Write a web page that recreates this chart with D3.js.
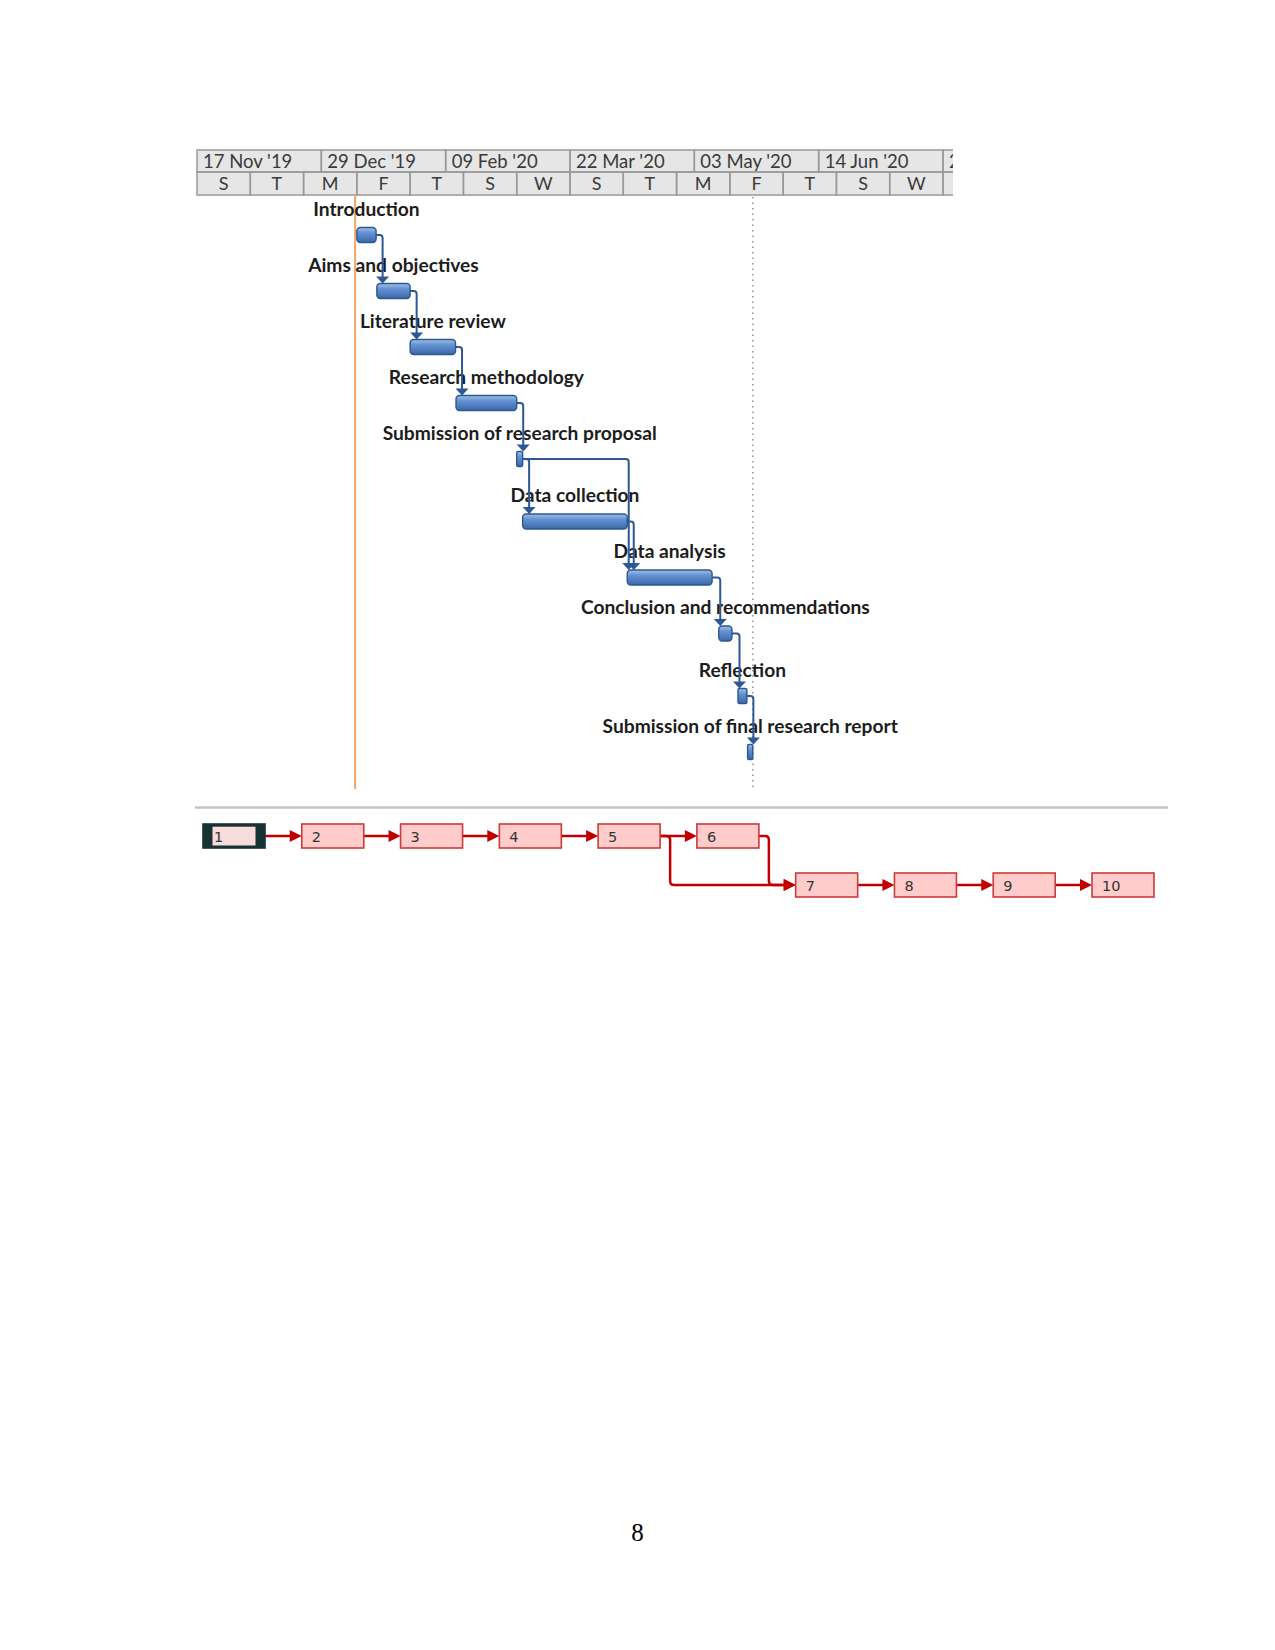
<!DOCTYPE html>
<html>
<head>
<meta charset="utf-8">
<script src="https://cdn.jsdelivr.net/npm/d3@7"></script>
<style>
  body { margin: 0; background: #fff; }
</style>
</head>
<body>
<div id="svgWrapper"></div>
<script>
const width = 1275;
const height = 1650;

// Tasks of the gantt chart
const taskNames = [
    "Introduction",
    "Aims and objectives",
    "Literature review",
    "Research methodology",
    "Submission of research proposal",
    "Data collection",
    "Data analysis",
    "Conclusion and recommendations",
    "Reflection",
    "Submission of final research report"
];
const taskStarts = [
    "2020-01-10 00:00", "2020-01-16 18:00", "2020-01-28 00:00", "2020-02-12 12:00", "2020-03-04 00:00",
    "2020-03-06 00:00", "2020-04-10 08:00", "2020-05-11 06:00", "2020-05-17 18:00", "2020-05-21 00:00"
];
const taskEnds = [
    "2020-01-16 12:00", "2020-01-28 00:00", "2020-02-12 08:00", "2020-03-04 00:00", "2020-03-06 00:00",
    "2020-04-10 08:00", "2020-05-09 00:00", "2020-05-15 17:00", "2020-05-20 18:00", "2020-05-22 18:00"
];
// predecessor -> successor (task numbers)
const dependencies = [[1, 2], [2, 3], [3, 4], [4, 5], [5, 6], [5, 7], [6, 7], [7, 8], [8, 9], [9, 10]];

// Timescale
const topTierDates = ["2019-11-17 00:00", "2019-12-29 00:00", "2020-02-09 00:00", "2020-03-22 00:00", "2020-05-03 00:00", "2020-06-14 00:00", "2020-07-26 00:00"];
const topTierLabels = ["17 Nov '19", "29 Dec '19", "09 Feb '20", "22 Mar '20", "03 May '20", "14 Jun '20", "26 Jul '20"];
const bottomTierLabels = ["S", "T", "M", "F", "T", "S", "W", "S", "T", "M", "F", "T", "S", "W", "S"];
const currentDate = "2020-01-09 10:00";
const deadlineDate = "2020-05-22 18:00";

// Network diagram nodes
const nodeIds = ["1", "2", "3", "4", "5", "6", "7", "8", "9", "10"];
const nodeCols = [0, 1, 2, 3, 4, 5, 6, 7, 8, 9];
const nodeRows = [0, 0, 0, 0, 0, 0, 1, 1, 1, 1];

const pageNumber = "8";

const parse = d3.timeParse("%Y-%m-%d %H:%M");

const svg = d3.select("#svgWrapper")
    .append("svg")
    .attr("width", width)
    .attr("height", height)
    .style("display", "block");

svg.append("rect")
    .attr("width", width)
    .attr("height", height)
    .attr("fill", "#fff");

const defs = svg.append("defs");

// bar gradient
const grad = defs.append("linearGradient")
    .attr("id", "barGrad")
    .attr("x1", 0).attr("y1", 0).attr("x2", 0).attr("y2", 1);
grad.append("stop").attr("offset", "0%").attr("stop-color", "#a3c1e8");
grad.append("stop").attr("offset", "35%").attr("stop-color", "#6593d2");
grad.append("stop").attr("offset", "100%").attr("stop-color", "#3a68a8");

// clip for the timescale
const chartLeft = 197, chartRight = 953;
defs.append("clipPath").attr("id", "headClip")
    .append("rect")
    .attr("x", chartLeft - 1).attr("y", 140)
    .attr("width", chartRight - chartLeft + 1).attr("height", 70);

const x = d3.scaleTime()
    .domain([parse(topTierDates[0]), parse(topTierDates[topTierDates.length - 1])])
    .range([chartLeft, 943]);

// row positions (two rows are a bit taller)
const tallRows = [5, 8];
const yRow = d3.scaleLinear().domain([0, 1]).range([235, 291]);
const rowY = i => yRow(i + tallRows.filter(t => i >= t).length * 0.116);

const barH = 15;
const font = "Lato, 'Open Sans', sans-serif";

// ---------- timescale header ----------
const head = svg.append("g").attr("clip-path", "url(#headClip)");
const headTop = 150, headMid = 172, headBottom = 195;

head.append("rect")
    .attr("x", chartLeft).attr("y", headTop)
    .attr("width", chartRight - chartLeft).attr("height", headBottom - headTop)
    .attr("fill", "#e6e6e6");

const topCells = topTierDates.map((d, i) => ({
    start: parse(d),
    end: d3.timeDay.offset(parse(d), 42),
    label: topTierLabels[i]
}));

head.selectAll(".topCell")
    .data(topCells)
    .enter()
    .append("rect")
    .attr("x", d => x(d.start))
    .attr("y", headTop)
    .attr("width", d => x(d.end) - x(d.start))
    .attr("height", headMid - headTop)
    .attr("fill", "none")
    .attr("stroke", "#999")
    .attr("stroke-width", 1.5);

head.selectAll(".topLabel")
    .data(topCells)
    .enter()
    .append("text")
    .attr("x", d => x(d.start) + 6)
    .attr("y", headMid - 4.5)
    .attr("font-family", font)
    .attr("font-size", 18.5)
    .attr("fill", "#3a3a3a")
    .text(d => d.label);

const bottomCells = bottomTierLabels.map((l, i) => ({
    start: d3.timeDay.offset(parse(topTierDates[0]), i * 18),
    end: d3.timeDay.offset(parse(topTierDates[0]), (i + 1) * 18),
    label: l
}));

head.selectAll(".botCell")
    .data(bottomCells)
    .enter()
    .append("rect")
    .attr("x", d => x(d.start))
    .attr("y", headMid)
    .attr("width", d => x(d.end) - x(d.start))
    .attr("height", headBottom - headMid)
    .attr("fill", "none")
    .attr("stroke", "#999")
    .attr("stroke-width", 1.5);

head.selectAll(".botLabel")
    .data(bottomCells)
    .enter()
    .append("text")
    .attr("x", d => (x(d.start) + x(d.end)) / 2)
    .attr("y", headBottom - 5.5)
    .attr("text-anchor", "middle")
    .attr("font-family", font)
    .attr("font-size", 18)
    .attr("fill", "#3a3a3a")
    .text(d => d.label);

// ---------- vertical lines ----------
svg.append("line")
    .attr("x1", x(parse(currentDate))).attr("x2", x(parse(currentDate)))
    .attr("y1", headBottom).attr("y2", 789)
    .attr("stroke", "#f3a766")
    .attr("stroke-width", 2);

svg.append("line")
    .attr("x1", x(parse(deadlineDate))).attr("x2", x(parse(deadlineDate)))
    .attr("y1", headBottom + 2).attr("y2", 787)
    .attr("stroke", "#9a9a9a")
    .attr("stroke-width", 1.6)
    .attr("stroke-dasharray", "1.5,4");

// ---------- tasks ----------
const tasks = taskNames.map((name, i) => ({
    name: name,
    start: parse(taskStarts[i]),
    end: parse(taskEnds[i]),
    row: i
}));

// task labels, centred over the bars
svg.selectAll(".taskLabel")
    .data(tasks)
    .enter()
    .append("text")
    .attr("x", d => (x(d.start) + x(d.end)) / 2)
    .attr("y", d => rowY(d.row) - 19)
    .attr("text-anchor", "middle")
    .attr("font-family", font)
    .attr("font-weight", "bold")
    .attr("font-size", 19.2)
    .attr("fill", "#1c1c1c")
    .text(d => d.name);

// bars
svg.selectAll(".bar")
    .data(tasks)
    .enter()
    .append("rect")
    .attr("x", d => x(d.start))
    .attr("y", d => rowY(d.row) - barH / 2)
    .attr("width", d => x(d.end) - x(d.start))
    .attr("height", barH)
    .attr("rx", d => (x(d.end) - x(d.start)) < 10 ? 1.5 : 3.5)
    .attr("fill", "url(#barGrad)")
    .attr("stroke", "#2b5891")
    .attr("stroke-width", 1.4);

// dependency links
const linkColor = "#2c5894";
const gLinks = svg.append("g");
dependencies.forEach(([p, s]) => {
    const a = tasks[p - 1], b = tasks[s - 1];
    const sx = x(a.end);
    const sy = rowY(a.row);
    const ax = Math.max(x(a.end) + 6.5, x(b.start) + 1.5);
    const ey = rowY(b.row) - barH / 2;
    gLinks.append("path")
        .attr("d", `M${sx},${sy} H${ax - 3} Q${ax},${sy} ${ax},${sy + 3} V${ey - 5}`)
        .attr("fill", "none")
        .attr("stroke", linkColor)
        .attr("stroke-width", 2);
    gLinks.append("path")
        .attr("d", `M${ax - 6.5},${ey - 7} L${ax + 6.5},${ey - 7} L${ax},${ey} Z`)
        .attr("fill", linkColor);
});

// ---------- network diagram ----------
svg.append("line")
    .attr("x1", 195).attr("x2", 1168)
    .attr("y1", 807.5).attr("y2", 807.5)
    .attr("stroke", "#c6c6c6")
    .attr("stroke-width", 2.5);

const nx = d3.scaleLinear().domain([0, 9]).range([203, 1092]);
const ny = d3.scaleLinear().domain([0, 1]).range([824, 873]);
const boxW = 62, boxH = 24;
const netRed = "#c00000";

const nodes = nodeIds.map((id, i) => ({ id: id, col: nodeCols[i], row: nodeRows[i] }));

const gNet = svg.append("g");
dependencies.forEach(([p, s]) => {
    const a = nodes[p - 1], b = nodes[s - 1];
    const x1 = nx(a.col) + boxW;
    const y1 = ny(a.row) + boxH / 2;
    const x2 = nx(b.col);
    const y2 = ny(b.row) + boxH / 2;
    let d;
    if (a.row === b.row) {
        d = `M${x1},${y1} H${x2 - 9}`;
    } else {
        const vx = x1 + 10;
        d = `M${x1},${y1} H${vx - 4} Q${vx},${y1} ${vx},${y1 + 4} V${y2 - 4} Q${vx},${y2} ${vx + 4},${y2} H${x2 - 9}`;
    }
    gNet.append("path")
        .attr("d", d)
        .attr("fill", "none")
        .attr("stroke", netRed)
        .attr("stroke-width", 2.5);
    gNet.append("path")
        .attr("d", `M${x2 - 12},${y2 - 6} L${x2 - 12},${y2 + 6} L${x2},${y2} Z`)
        .attr("fill", netRed);
});

const boxes = gNet.selectAll(".node")
    .data(nodes)
    .enter()
    .append("g")
    .attr("transform", d => `translate(${nx(d.col)},${ny(d.row)})`);

boxes.append("rect")
    .attr("width", boxW)
    .attr("height", boxH)
    .attr("fill", d => d.id === "1" ? "#173232" : "#ffcccc")
    .attr("stroke", d => d.id === "1" ? "#173232" : "#cc3a3a")
    .attr("stroke-width", 1.6);

// first node is selected: dark frame with light inside
boxes.filter(d => d.id === "1")
    .append("rect")
    .attr("x", 9.5).attr("y", 2.7)
    .attr("width", boxW - 19).attr("height", boxH - 5.2)
    .attr("fill", "#f7dcdc");

boxes.append("text")
    .attr("x", d => d.id === "1" ? 11 : 10)
    .attr("y", boxH / 2 + 5.5)
    .attr("font-family", "'DejaVu Sans', Verdana, sans-serif")
    .attr("font-size", 14.5)
    .attr("fill", "#333")
    .text(d => d.id);

// ---------- page number ----------
svg.append("text")
    .attr("x", 637.5)
    .attr("y", 1541)
    .attr("text-anchor", "middle")
    .attr("font-family", "'Liberation Serif', 'Times New Roman', serif")
    .attr("font-size", 25)
    .attr("fill", "#000")
    .text(pageNumber);
</script>
</body>
</html>
